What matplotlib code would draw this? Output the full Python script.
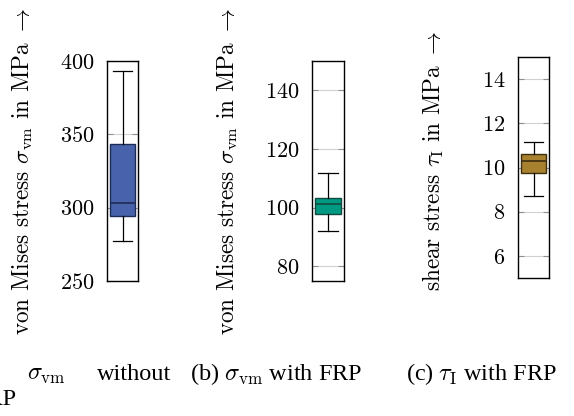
import matplotlib
matplotlib.use("Agg")
import matplotlib.pyplot as plt

# box statistics
labels = [r"von Mises stress $\sigma_{\mathrm{vm}}$ in MPa $\rightarrow$",
          r"von Mises stress $\sigma_{\mathrm{vm}}$ in MPa $\rightarrow$",
          r"shear stress $\tau_{\mathrm{I}}$ in MPa $\rightarrow$"]
whislo = [277.3, 91.9, 8.72]
q1 = [294.3, 97.8, 9.76]
med = [303.4, 101.3, 10.3]
q3 = [343.4, 103.4, 10.6]
whishi = [393.0, 111.9, 11.15]
ylims = [(250, 400), (75, 150), (5, 15)]
yticks = [[250, 300, 350, 400], [80, 100, 120, 140], [6, 8, 10, 12, 14]]
fills = ["#4863ab", "#009a83", "#a8812f"]
edges = ["#1d2c55", "#124a40", "#3e2f10"]

plt.rcParams["mathtext.fontset"] = "cm"
plt.rcParams["font.family"] = "cmr10"
plt.rcParams["axes.formatter.use_mathtext"] = True

W, H = 574, 416
fig = plt.figure(figsize=(W / 100, H / 100), dpi=100)

# axes boxes in pixels: left, top, right, bottom
boxes = [(107, 61, 138, 281), (312, 61, 344, 281), (518, 57, 549, 278)]
label_y = [0.5, 0.5, 0.53]

for i in range(3):
    l, t, r, b = boxes[i]
    ax = fig.add_axes([l / W, (H - b) / H, (r - l) / W, (b - t) / H])
    stats = [dict(whislo=whislo[i], q1=q1[i], med=med[i], q3=q3[i],
                  whishi=whishi[i], fliers=[])]
    ax.bxp(stats, positions=[1], widths=0.8, patch_artist=True,
           showfliers=False, capwidths=[0.64],
           boxprops=dict(facecolor=fills[i], edgecolor=edges[i], linewidth=1.0),
           medianprops=dict(color=edges[i], linewidth=1.2),
           whiskerprops=dict(color="black", linewidth=0.9),
           capprops=dict(color="black", linewidth=0.9))
    ax.set_xlim(0.5, 1.5)
    ax.set_ylim(*ylims[i])
    ax.set_yticks(yticks[i])
    ax.set_xticks([])
    ax.yaxis.grid(True, color="#d0d0d0", linewidth=0.8)
    ax.set_axisbelow(True)
    ax.tick_params(axis="y", direction="in", length=4, color="#909090",
                   left=True, right=True, labelsize=16, pad=9)
    for s in ax.spines.values():
        s.set_linewidth(1.0)
    ax.set_ylabel(labels[i], fontsize=16.7)
    # label right edge ~72 px left of the axes
    ax.yaxis.set_label_coords(-72 / (r - l), label_y[i])

# subfigure captions, (a) runs off the left edge as in the source
cap = dict(fontsize=17.5, family="Liberation Serif", va="baseline")
fig.text(-30 / W, 1 - 380 / H, "(a)", ha="left", **cap)
fig.text(27 / W, 1 - 380 / H, r"$\sigma_{\mathrm{vm}}$", ha="left", **cap)
fig.text(97 / W, 1 - 380 / H, "without", ha="left", **cap)
fig.text(16 / W, 1 - 405 / H, "FRP", ha="right", **cap)
fig.text(190 / W, 1 - 380 / H, r"(b) $\sigma_{\mathrm{vm}}$ with FRP", ha="left", **cap)
fig.text(406 / W, 1 - 380 / H, r"(c) $\tau_{\mathrm{I}}$ with FRP", ha="left", **cap)

fig.savefig("out.png", dpi=100)
